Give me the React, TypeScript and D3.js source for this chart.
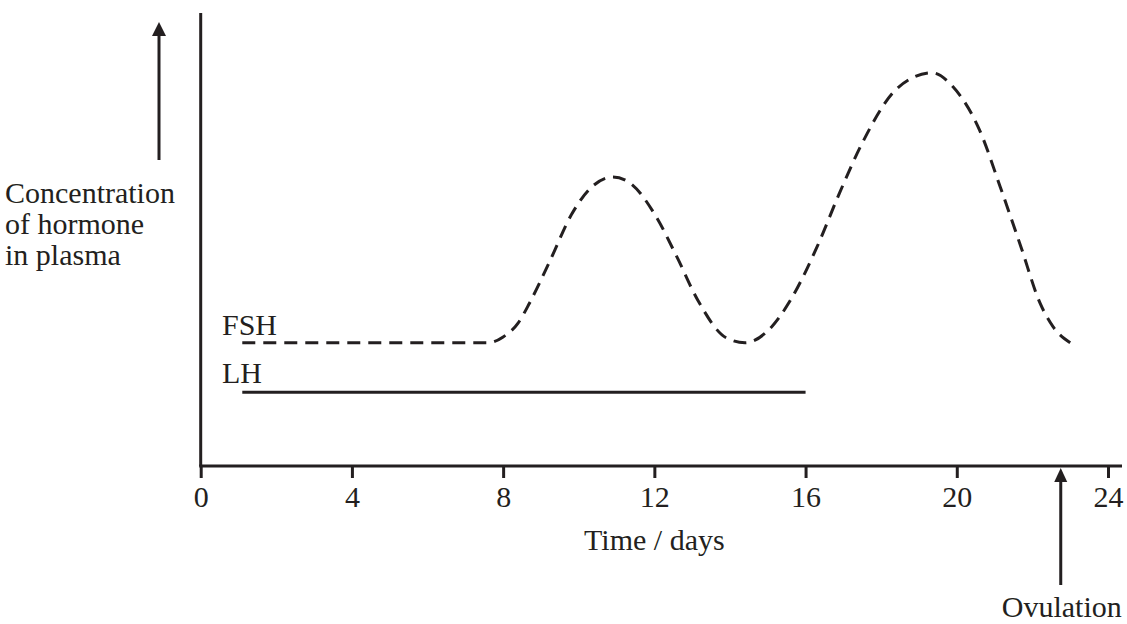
import React, { useEffect, useRef } from 'react';
import * as d3 from 'd3';

// FSH concentration (arbitrary units)
const fshDays = [1.1, 7.0, 7.6, 8.0, 8.4, 8.7, 9.25, 9.8, 10.4, 10.9, 11.35, 12.05, 12.6, 13.15, 13.9, 14.4, 15.1, 15.6, 16.3, 16.9, 17.5, 18.3, 18.85, 19.35, 19.9, 20.6, 21.15, 21.7, 22.2, 22.55, 23.0];
const fshLevel = [27.2, 27.2, 27.2, 28.5, 31.6, 36.0, 45.5, 55.4, 62.0, 63.8, 62.5, 55.0, 46.1, 36.6, 28.3, 27.2, 30.7, 36.6, 48.3, 60.3, 71.3, 82.3, 85.8, 86.8, 83.7, 74.2, 61.6, 48.3, 36.0, 30.7, 27.2];

// LH stays flat
const lhDays = [1.1, 16.0];
const lhLevel = [16.3, 16.3];

const xTicks = [0, 4, 8, 12, 16, 20, 24];
const ovulationDay = 22.75;

const INK = '#231f20';
const FONT = '"Liberation Serif", "Times New Roman", serif';
const FS = 30;

const App: React.FC = () => {
  const ref = useRef<SVGSVGElement>(null);

  useEffect(() => {
    if (!ref.current) return;
    const svg = d3.select(ref.current);
    svg.selectAll('*').remove();

    const x = d3.scaleLinear().domain([0, 24]).range([200.7, 1108]);
    const y = d3.scaleLinear().domain([0, 100]).range([466, 13]);

    // x axis
    const ax = svg.append('g')
      .attr('transform', `translate(0,${y(0)})`)
      .call(d3.axisBottom(x).tickValues(xTicks).tickSize(12).tickSizeOuter(0));
    ax.select('.domain').remove();
    ax.selectAll('.tick line').attr('stroke', INK).attr('stroke-width', 3);
    ax.selectAll('.tick text')
      .attr('fill', INK)
      .attr('font-family', FONT)
      .attr('font-size', FS)
      .attr('dy', null)
      .attr('y', 41);
    svg.append('line')
      .attr('x1', x(0) - 1.5).attr('x2', x(24) + 14)
      .attr('y1', y(0)).attr('y2', y(0))
      .attr('stroke', INK).attr('stroke-width', 3);

    // y axis (no ticks)
    svg.append('line')
      .attr('x1', x(0)).attr('x2', x(0))
      .attr('y1', y(100)).attr('y2', y(0))
      .attr('stroke', INK).attr('stroke-width', 3);

    const fshLine = d3.line<number>()
      .x((d) => x(d))
      .y((_, i) => y(fshLevel[i]))
      .curve(d3.curveMonotoneX);
    svg.append('path')
      .attr('d', fshLine(fshDays))
      .attr('fill', 'none')
      .attr('stroke', INK)
      .attr('stroke-width', 3)
      .attr('stroke-dasharray', '13 8');

    const lhLine = d3.line<number>()
      .x((d) => x(d))
      .y((_, i) => y(lhLevel[i]));
    svg.append('path')
      .attr('d', lhLine(lhDays))
      .attr('fill', 'none')
      .attr('stroke', INK)
      .attr('stroke-width', 3);

    const label = (t: string, px: number, py: number, anchor = 'start') =>
      svg.append('text')
        .attr('x', px).attr('y', py)
        .attr('text-anchor', anchor)
        .attr('font-family', FONT)
        .attr('font-size', FS)
        .attr('fill', INK)
        .text(t);

    label('FSH', 222, 335);
    label('LH', 222, 383);
    label('Time / days', x(12), 550, 'middle');
    label('Concentration', 5, 203);
    label('of hormone', 5, 234);
    label('in plasma', 5, 265);
    label('Ovulation', x(ovulationDay) + 1, 617, 'middle');

    // arrows
    const arrow = (ax0: number, tipY: number, baseY: number, endY: number, hw: number) => {
      svg.append('line')
        .attr('x1', ax0).attr('x2', ax0)
        .attr('y1', baseY).attr('y2', endY)
        .attr('stroke', INK).attr('stroke-width', 3);
      svg.append('path')
        .attr('d', `M${ax0},${tipY}L${ax0 + hw},${baseY}L${ax0 - hw},${baseY}Z`)
        .attr('fill', INK);
    };
    arrow(159, 22, 36, 160, 7);
    arrow(x(ovulationDay), 468, 482, 585, 6.5);
  }, []);

  return (
    <svg
      ref={ref}
      width={1127}
      height={624}
      style={{ position: 'absolute', left: 0, top: 0, background: '#fff' }}
    />
  );
};

export default App;
